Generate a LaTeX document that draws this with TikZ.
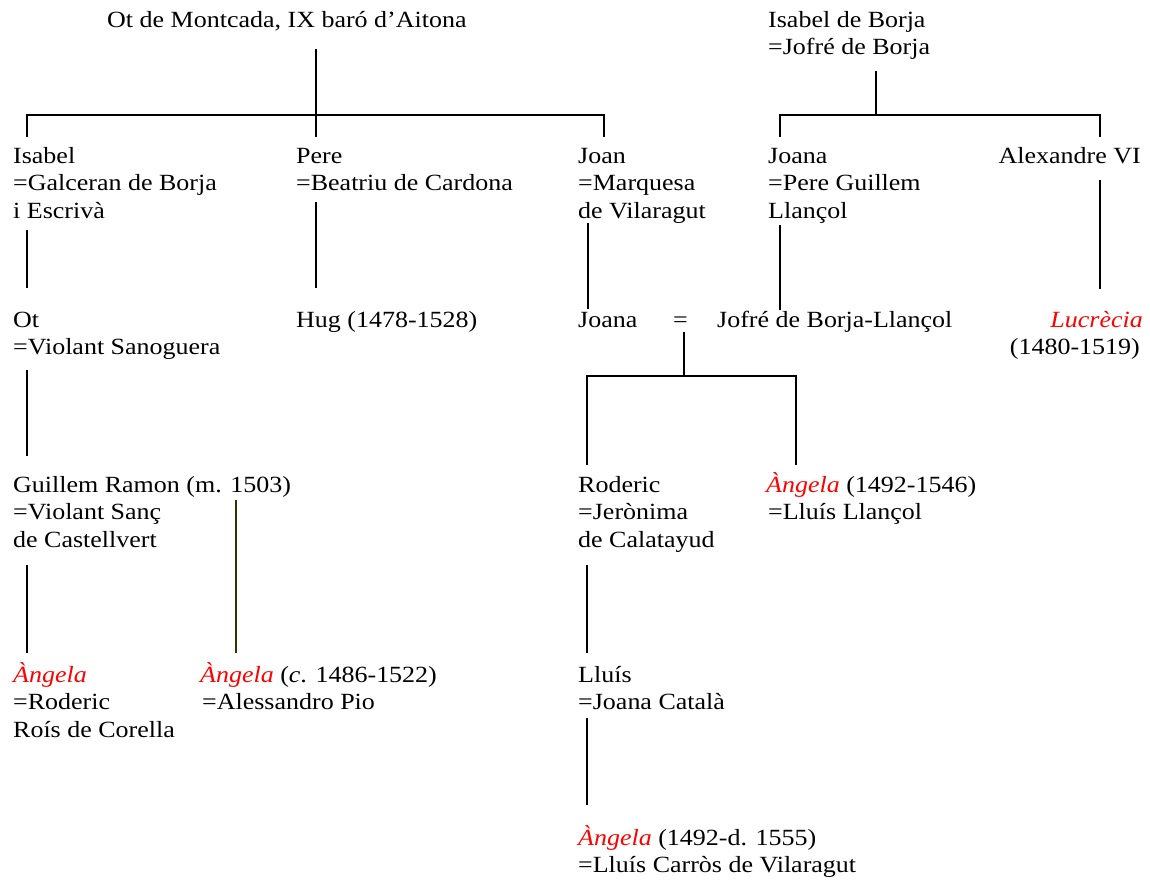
\documentclass[tikz,border=0pt]{standalone}
\usepackage{fontspec}
\setmainfont[FakeStretch=1.12]{Liberation Serif}
\newcommand{\ttab}[1]{\begin{tabular}[t]{@{}l@{}}#1\end{tabular}}
\newcommand{\rtab}[1]{\begin{tabular}[t]{@{}r@{}}#1\end{tabular}}
\newcommand{\rd}[1]{\textcolor{red}{\textit{#1}}}
\definecolor{olive}{RGB}{51,51,0}
\begin{document}
\begin{tikzpicture}[x=1pt,y=-1pt,
  person/.style={anchor=base west,inner sep=0pt,font=\fontsize{23.2}{27.5}\selectfont},
  rperson/.style={anchor=base east,inner sep=0pt,font=\fontsize{23.2}{27.5}\selectfont},
  link/.style={line width=2pt,black}]
\fill[white] (0,0) rectangle (1150,881);
\useasboundingbox (0,0) rectangle (1150,881);

% nodes
\node[person] (ot) at (107,27) {Ot de Montcada, IX baró d’Aitona};
\node[person] (isabelB) at (768,27) {\ttab{Isabel de Borja\\=Jofré de Borja}};
\node[person] (isabel) at (13,163) {\ttab{Isabel\\=Galceran de Borja\\i Escrivà}};
\node[person] (pere) at (296,163) {\ttab{Pere\\=Beatriu de Cardona}};
\node[person] (joan) at (578,163) {\ttab{Joan\\=Marquesa\\de Vilaragut}};
\node[person] (joanaA) at (768,163) {\ttab{Joana\\=Pere Guillem\\Llançol}};
\node[rperson] (alex) at (1141,163) {Alexandre VI};
\node[person] (otjr) at (13,327) {\ttab{Ot\\=Violant Sanoguera}};
\node[person] (hug) at (296,327) {Hug (1478-1528)};
\node[person] (joanaB) at (578,327) {Joana};
\node[person] (eq) at (673,327) {=};
\node[person] (jofre) at (717,327) {Jofré de Borja-Llançol};
\node[rperson] (lucrecia) at (1143,327) {\rtab{\rd{Lucrècia}\\(1480-1519)\kern3pt}};
\node[person] (guillem) at (13,492) {\ttab{Guillem Ramon (m. 1503)\\=Violant Sanç\\de Castellvert}};
\node[person] (roderic) at (578,492) {\ttab{Roderic\\=Jerònima\\de Calatayud}};
\node[person] (angelaC) at (766,492) {\ttab{\rd{Àngela} (1492-1546)\\\kern2pt=Lluís Llançol}};
\node[person] (angelaA) at (13,682) {\ttab{\rd{Àngela}\\=Roderic\\Roís de Corella}};
\node[person] (angelaB) at (200,682) {\ttab{\rd{Àngela} (\textit{c}. 1486-1522)\\\kern2pt=Alessandro Pio}};
\node[person] (lluis) at (578,682) {\ttab{Lluís\\=Joana Català}};
\node[person] (angelaD) at (578,845) {\ttab{\rd{Àngela} (1492-d. 1555)\\=Lluís Carròs de Vilaragut}};

% junction coordinates
\coordinate (otTop) at (316,49);
\coordinate (otBar) at (316,115);
\coordinate (otL) at (27,115);
\coordinate (otR) at (604,115);
\coordinate (isabelTop) at (27,137);
\coordinate (pereTop) at (316,137);
\coordinate (joanTop) at (604,137);

\coordinate (bTop) at (876,71);
\coordinate (bBar) at (876,115);
\coordinate (bL) at (780,115);
\coordinate (bR) at (1100,115);
\coordinate (joanaATop) at (780,137);
\coordinate (alexTop) at (1100,137);

\coordinate (isabelBot) at (27,230);
\coordinate (otjrTop) at (27,288);
\coordinate (pereBot) at (316,202);
\coordinate (hugTop) at (316,288);
\coordinate (joanBot) at (588,223);
\coordinate (joanaBTop) at (588,309);
\coordinate (joanaABot) at (780,225);
\coordinate (jofreTop) at (780,310);
\coordinate (alexBot) at (1100,180);
\coordinate (lucTop) at (1100,289);

\coordinate (otjrBot) at (27,370);
\coordinate (guillemTop) at (27,456);
\coordinate (eqBot) at (684,332);
\coordinate (eqBar) at (684,376);
\coordinate (eqL) at (587,376);
\coordinate (eqR) at (796,376);
\coordinate (rodericTop) at (587,465);
\coordinate (angelaCTop) at (796,465);

\coordinate (guillemBot) at (27,565);
\coordinate (angelaATop) at (27,653);
\coordinate (guillemBotB) at (236,500);
\coordinate (angelaBTop) at (236,653);
\coordinate (rodericBot) at (587,565);
\coordinate (lluisTop) at (587,653);
\coordinate (lluisBot) at (587,718);
\coordinate (angelaDTop) at (587,805);

% connectors
\draw[link] (otTop) -- (pereTop);
\draw[link] (isabelTop) -- (otL) -- (otR) -- (joanTop);
\draw[link] (bTop) -- (bBar);
\draw[link] (joanaATop) -- (bL) -- (bR) -- (alexTop);
\draw[link] (isabelBot) -- (otjrTop);
\draw[link] (pereBot) -- (hugTop);
\draw[link] (joanBot) -- (joanaBTop);
\draw[link] (joanaABot) -- (jofreTop);
\draw[link] (alexBot) -- (lucTop);
\draw[link] (otjrBot) -- (guillemTop);
\draw[link] (eqBot) -- (eqBar);
\draw[link] (rodericTop) -- (eqL) -- (eqR) -- (angelaCTop);
\draw[link] (guillemBot) -- (angelaATop);
\draw[link,olive] (guillemBotB) -- (angelaBTop);
\draw[link] (rodericBot) -- (lluisTop);
\draw[link] (lluisBot) -- (angelaDTop);
\end{tikzpicture}
\end{document}
